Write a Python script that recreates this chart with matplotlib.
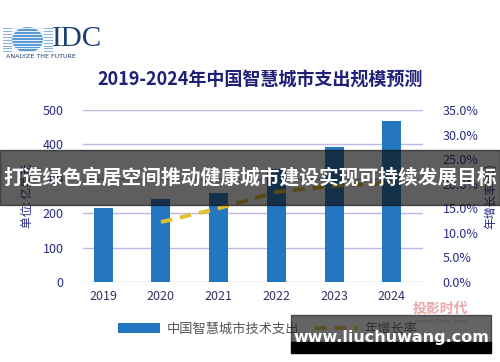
import numpy as np
import matplotlib
matplotlib.use('Agg')
import matplotlib.pyplot as plt
from matplotlib.patches import Rectangle, Circle

plt.rcParams['font.family'] = ['Noto Sans CJK SC', 'DejaVu Sans']

# 数据
years = ['2019', '2020', '2021', '2022', '2023', '2024']
spend = [215, 241, 259, 328, 392, 468]          # 亿美元
growth_years = ['2020', '2021', '2022', '2023', '2024']
growth = [12.2, 15.0, 18.3, 19.6, 20.2]          # %
left_ticks = [0, 100, 200, 300, 400, 500]
right_ticks = [0, 5, 10, 15, 20, 25, 30, 35]

title = '2019-2024年中国智慧城市支出规模预测'
banner = '打造绿色宜居空间推动健康城市建设实现可持续发展目标'

navy = '#2b2b85'
bar_c = '#2277c0'
line_c = '#e3c02a'
grid_c = '#bdb6e6'

fig = plt.figure(figsize=(5, 3.62), dpi=100)
ax = fig.add_axes([0.166, 0.221, 0.68, 0.475])
x = np.arange(len(years))
ax.bar(x, spend, width=0.33, color=bar_c, zorder=3, label='中国智慧城市技术支出')
ax.set_ylim(0, 500)
ax.set_xlim(-0.35, 5.54)
ax.set_yticks(left_ticks)
ax.set_xticks(x)
ax.set_xticklabels(years)
ax.grid(axis='y', color=grid_c, lw=1, zorder=0)
for s in ax.spines.values():
    s.set_visible(False)
ax.tick_params(length=0, labelsize=9, labelcolor=navy, pad=14)
ax.tick_params(axis='x', pad=6, labelcolor='#333366')
ax.set_ylabel('单位: 亿美元', color=navy, fontsize=8.5, labelpad=6)

ax2 = ax.twinx()
gx = [years.index(y) for y in growth_years]
ax2.plot(gx, growth, color=line_c, lw=2.8, ls=(0, (3, 2)), zorder=4, label='年增长率')
ax2.set_ylim(0, 35)
ax2.set_yticks(right_ticks)
ax2.set_yticklabels(['%.1f%%' % t for t in right_ticks])
for s in ax2.spines.values():
    s.set_visible(False)
ax2.tick_params(length=0, labelsize=9, labelcolor=navy, pad=14)
ax2.set_ylabel('年增长率(%)', color=navy, fontsize=8.5, rotation=90, labelpad=4)

fig.text(0.52, 0.779, title, ha='center', va='center', fontsize=13,
         fontweight='bold', color='#1f1f78')

# 图例
h1, l1 = ax.get_legend_handles_labels()
h2, l2 = ax2.get_legend_handles_labels()
fig.legend(h1 + h2, l1 + l2, loc='center', bbox_to_anchor=(0.535, 0.091), ncol=2,
           frameon=False, fontsize=9.5, labelcolor='#555555', handlelength=3.2,
           columnspacing=1.2, handletextpad=0.5)

# IDC 标志
lax = fig.add_axes([0.005, 0.855, 0.1, 0.07])
lax.set_xlim(-1.6, 1.6)
lax.set_ylim(-1, 1)
lax.axis('off')
lax.add_patch(Circle((0, 0), 0.95, color='#5b9bd5', zorder=1))
for yy in np.linspace(-0.9, 0.9, 9):
    lax.plot([-1.55, 1.55], [yy, yy], color='#8ab4dc', lw=0.8, zorder=0)
    lax.plot([-1.0, 1.0], [yy, yy], color='white', lw=0.6, zorder=2)
fig.text(0.104, 0.893, 'IDC', fontsize=21, family='Liberation Serif',
         color='#1d3f73', ha='left', va='center')
fig.text(0.012, 0.843, 'ANALYZE THE FUTURE', fontsize=4.6, color='#1d3f73',
         ha='left', va='center', family='DejaVu Sans')

# 投影时代 水印
fig.text(0.826, 0.148, '投影时代', fontsize=10, fontweight='bold', color='#eaa8a8',
         ha='left', va='center')
fig.text(0.83, 0.113, 'www.PjTime.com', fontsize=4.5, color='#bbbbbb',
         ha='left', va='center', family='DejaVu Sans')

# 中间横幅
fig.patches.append(Rectangle((0, 0.434), 1, 0.152, transform=fig.transFigure,
                             color='#0f0f0f', alpha=0.67, zorder=10))
fig.text(0.5, 0.51, banner, ha='center', va='center', fontsize=14.2,
         fontweight='bold', color='white', zorder=11)

# 右下角水印框
fig.patches.append(Rectangle((0.582, 0.055), 0.4, 0.075, transform=fig.transFigure,
                             color='#222222', alpha=0.7, zorder=10))
fig.patches.append(Rectangle((0.582, 0.025), 0.4, 0.031, transform=fig.transFigure,
                             color='black', zorder=10))
fig.text(0.782, 0.069, 'www.liuchuwang.com', ha='center', va='center', fontsize=11.5,
         fontweight='bold', color='white', family='DejaVu Sans', zorder=11)

fig.savefig('out.png', dpi=100)
